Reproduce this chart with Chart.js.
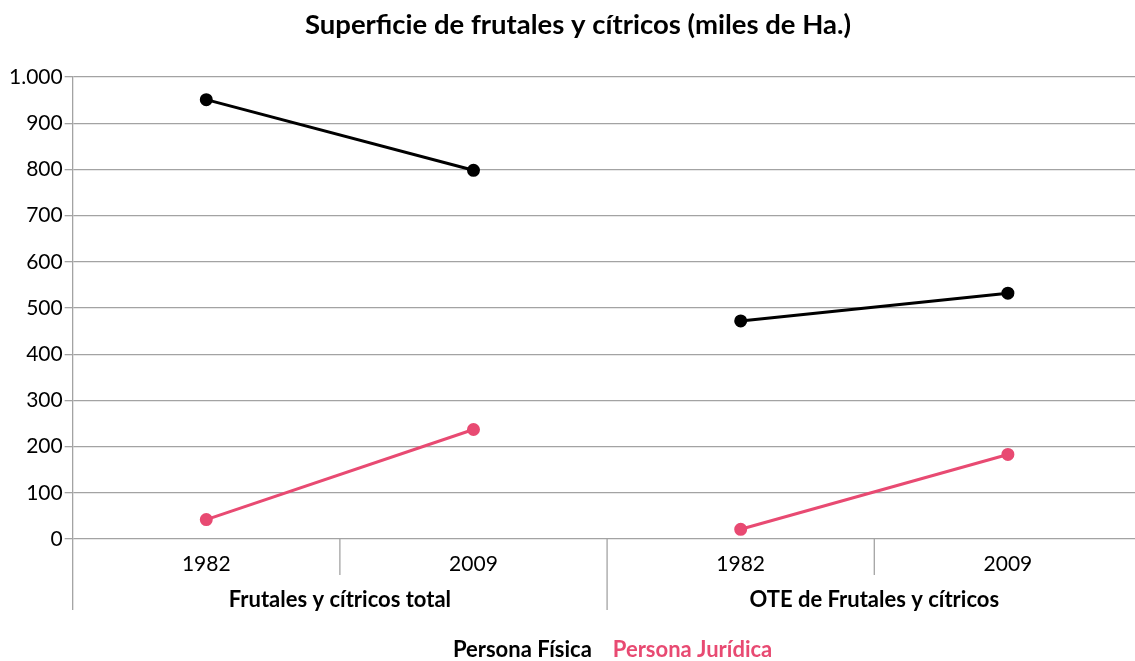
<!DOCTYPE html>
<html>
<head>
<meta charset="utf-8">
<script src="https://cdn.jsdelivr.net/npm/chart.js@4/dist/chart.umd.min.js"></script>
<style>
  html, body { margin: 0; padding: 0; background: #fff; overflow: hidden; }
  #wrap { width: 1149px; height: 671px; position: relative; }
</style>
</head>
<body>
<div id="wrap"><canvas id="myChart"></canvas></div>
<script>
const years = ['1982', '2009', '1982', '2009'];
const groups = ['Frutales y cítricos total', 'OTE de Frutales y cítricos'];
const personaFisica = [951, 798, 472, 532];
const personaJuridica = [42, 237, 21, 183];
const yTicks = [0, 100, 200, 300, 400, 500, 600, 700, 800, 900, 1000];

const BLACK = '#000000';
const PINK = '#e84a72';
const GRID = '#a3a3a3';

Chart.defaults.font.family = 'Lato';
Chart.defaults.color = '#000';

// no line between the two groups
const gapSegment = (color) => ({
  borderColor: ctx => (ctx.p0DataIndex === 1 ? 'rgba(0,0,0,0)' : color)
});

// vertical separators under the x axis (between years and between groups)
const separators = {
  id: 'separators',
  afterDraw(chart) {
    const x = chart.scales.x, x2 = chart.scales.x2;
    const c = chart.ctx;
    const bottom = chart.chartArea.bottom;
    const n = x.ticks.length;
    const perGroup = n / groups.length;
    c.save();
    c.strokeStyle = GRID;
    c.lineWidth = 1.3;
    for (let i = 0; i <= n; i++) {
      let px;
      if (i === 0) px = x.left;
      else if (i === n) px = x.right;
      else px = (x.getPixelForValue(i - 1) + x.getPixelForValue(i)) / 2;
      const end = i % perGroup === 0 ? x2.top + 21 : x.top + 36;
      c.beginPath();
      c.moveTo(px, bottom);
      c.lineTo(px, end);
      c.stroke();
    }
    c.restore();
  }
};

const ctx = document.getElementById('myChart').getContext('2d');
new Chart(ctx, {
  type: 'line',
  data: {
    labels: years,
    datasets: [
      {
        label: 'Persona Física',
        data: personaFisica,
        borderColor: BLACK,
        backgroundColor: BLACK,
        pointBackgroundColor: BLACK,
        pointBorderColor: BLACK,
        borderWidth: 3,
        pointRadius: 5.5,
        pointBorderWidth: 2,
        segment: gapSegment(BLACK)
      },
      {
        label: 'Persona Jurídica',
        data: personaJuridica,
        borderColor: PINK,
        backgroundColor: PINK,
        pointBackgroundColor: PINK,
        pointBorderColor: PINK,
        borderWidth: 3,
        pointRadius: 5.5,
        pointBorderWidth: 2,
        segment: gapSegment(PINK)
      }
    ]
  },
  plugins: [separators],
  options: {
    responsive: true,
    maintainAspectRatio: false,
    animation: false,
    layout: { padding: { left: 7, right: 0, top: 0, bottom: 0 } },
    plugins: {
      title: {
        display: true,
        text: 'Superficie de frutales y cítricos (miles de Ha.)',
        font: { size: 27.5, weight: 'bold' },
        color: '#000',
        padding: { top: 9, bottom: 35 }
      },
      legend: {
        position: 'bottom',
        fullSize: false,
        labels: {
          boxWidth: 0,
          padding: 10,
          font: { size: 22, weight: 'bold' },
          generateLabels: chart => chart.data.datasets.map((ds, i) => ({
            text: ds.label,
            fontColor: ds.borderColor,
            fillStyle: 'rgba(0,0,0,0)',
            strokeStyle: 'rgba(0,0,0,0)',
            lineWidth: 0,
            datasetIndex: i
          }))
        }
      },
      tooltip: { enabled: false }
    },
    scales: {
      y: {
        min: 0,
        max: 1000,
        afterBuildTicks: axis => { axis.ticks = yTicks.map(v => ({ value: v })); },
        ticks: {
          padding: 2,
          font: { size: 21 },
          callback: v => v.toLocaleString('de-DE')
        },
        grid: { color: GRID, lineWidth: 1.3, tickLength: 8 },
        border: { color: GRID, width: 1.3 }
      },
      x: {
        type: 'category',
        offset: true,
        ticks: { padding: 12.4, font: { size: 21 } },
        grid: { display: false, drawTicks: false },
        border: { display: false }
      },
      x2: {
        type: 'category',
        position: 'bottom',
        labels: groups,
        offset: true,
        ticks: { padding: 0, font: { size: 22, weight: 'bold', lineHeight: 1 } },
        grid: { display: false, drawTicks: false },
        border: { display: false },
        title: { display: true, text: '', font: { size: 10 }, padding: { top: 0, bottom: 6 } }
      }
    }
  }
});
</script>
</body>
</html>
